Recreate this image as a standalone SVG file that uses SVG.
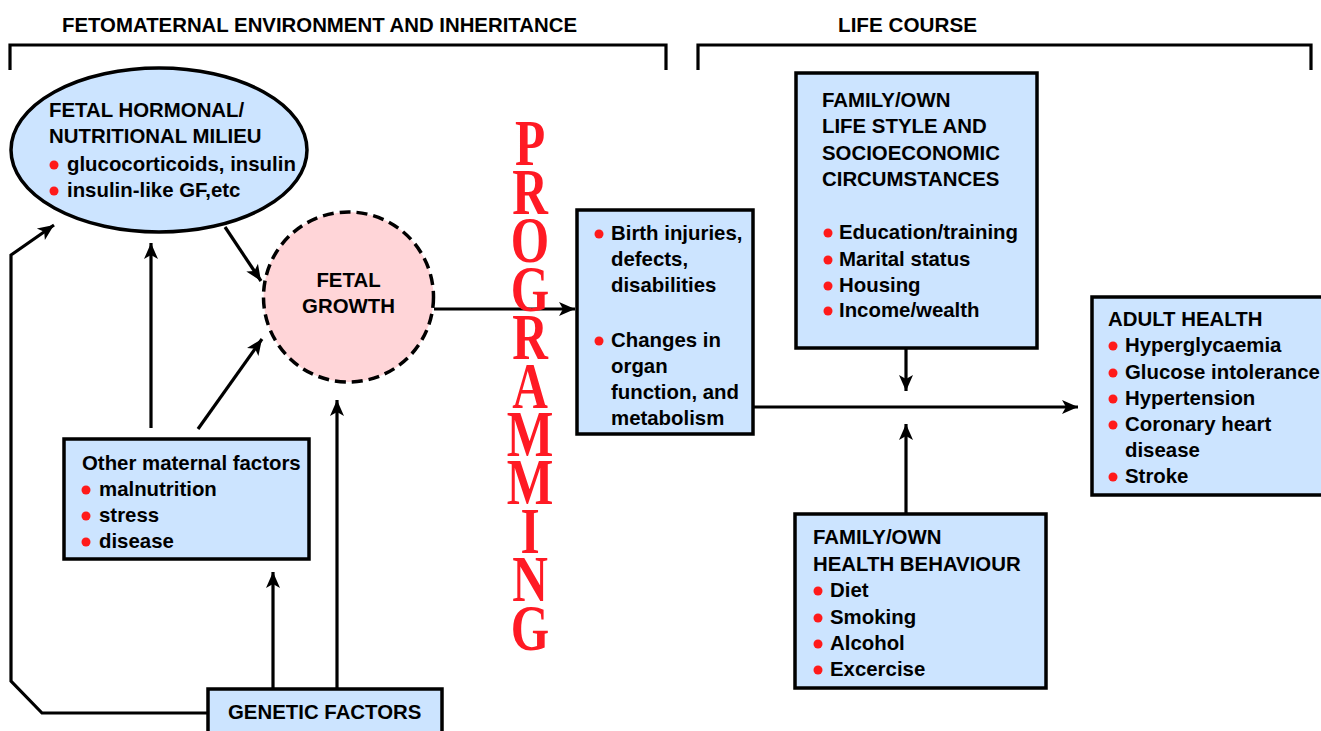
<svg xmlns="http://www.w3.org/2000/svg" width="1321" height="731" viewBox="0 0 1321 731">
<style>
text{font-family:"Liberation Sans",Arial,sans-serif;font-weight:bold;font-size:20.4px;fill:#000}
.box{fill:#CCE4FF;stroke:#000;stroke-width:3.5}
.bul{fill:#FF1A1A}
.ln{fill:none;stroke:#000;stroke-width:3.2}
.arr{fill:none;stroke:#000;stroke-width:3.2;marker-end:url(#ah)}
.prog{font-family:"Liberation Serif","Times New Roman",serif;font-weight:bold;font-size:65px;fill:#FF1A24;writing-mode:vertical-rl;text-orientation:upright;letter-spacing:-22.5px}
</style>
<defs>
<marker id="ah" markerUnits="userSpaceOnUse" markerWidth="18" markerHeight="16" refX="16" refY="7" orient="auto" overflow="visible">
<path d="M0,0 L16,7 L0,14 L4,7 z" fill="#000"/>
</marker>
</defs>
<rect width="1321" height="731" fill="#fff"/>

<g id="headers">
<text x="62" y="32" font-size="21" textLength="515" lengthAdjust="spacingAndGlyphs">FETOMATERNAL ENVIRONMENT AND INHERITANCE</text>
<path class="ln" d="M10,70 V45 H666 V70"/>
<text x="838" y="32" font-size="21" textLength="139" lengthAdjust="spacingAndGlyphs">LIFE COURSE</text>
<path class="ln" d="M698,70 V45 H1311 V70"/>
</g>

<g id="connectors">
<path class="arr" d="M225,227 L261,281"/>
<path class="arr" d="M198,429 L262,339"/>
<path class="arr" d="M151,428 V243"/>
<path class="arr" d="M337,689 V400"/>
<path class="arr" d="M273,689 V572"/>
<path class="arr" d="M208,713 H42 L11,681 V255 L54,225"/>
<path class="arr" d="M434,309 H575"/>
<path class="arr" d="M753,407 H1078"/>
<path class="arr" d="M906,349 V391"/>
<path class="arr" d="M906,514 V424"/>
</g>

<g id="fetal-milieu">
<ellipse cx="159" cy="150" rx="148" ry="82" fill="#CCE4FF" stroke="#000" stroke-width="3.5"/>
<text x="49" y="117">FETAL HORMONAL/</text>
<text x="49" y="143">NUTRITIONAL MILIEU</text>
<circle class="bul" cx="54" cy="165" r="4.5"/>
<text x="67" y="171">glucocorticoids, insulin</text>
<circle class="bul" cx="54" cy="191" r="4.5"/>
<text x="67" y="197">insulin-like GF,etc</text>
</g>

<g id="fetal-growth">
<circle cx="348.5" cy="297" r="85" fill="#FFD5D8" stroke="#000" stroke-width="3.5" stroke-dasharray="11,6"/>
<text x="348.5" y="287" text-anchor="middle">FETAL</text>
<text x="348.5" y="313" text-anchor="middle">GROWTH</text>
</g>

<g id="other-maternal">
<rect class="box" x="64" y="439" width="245" height="120"/>
<text x="82" y="470">Other maternal factors</text>
<circle class="bul" cx="86" cy="490" r="4.5"/>
<text x="99" y="496">malnutrition</text>
<circle class="bul" cx="86" cy="516" r="4.5"/>
<text x="99" y="522">stress</text>
<circle class="bul" cx="86" cy="542" r="4.5"/>
<text x="99" y="548">disease</text>
</g>

<g id="genetic">
<rect class="box" x="208" y="689" width="234" height="50"/>
<text x="228" y="719">GENETIC FACTORS</text>
</g>

<g id="programming">
<g transform="translate(530,0) scale(0.76,1)">
<text class="prog" x="0" y="108">PROGRAMMING</text>
</g>
</g>

<g id="birth-outcomes">
<rect class="box" x="577" y="210" width="176" height="224"/>
<circle class="bul" cx="599" cy="234" r="4.5"/>
<text x="611" y="240">Birth injuries,</text>
<text x="611" y="266">defects,</text>
<text x="611" y="292">disabilities</text>
<circle class="bul" cx="599" cy="341" r="4.5"/>
<text x="611" y="347">Changes in</text>
<text x="611" y="373">organ</text>
<text x="611" y="399">function, and</text>
<text x="611" y="425">metabolism</text>
</g>

<g id="lifestyle">
<rect class="box" x="796" y="73" width="241" height="275"/>
<text x="822" y="107">FAMILY/OWN</text>
<text x="822" y="133">LIFE STYLE AND</text>
<text x="822" y="160">SOCIOECONOMIC</text>
<text x="822" y="186">CIRCUMSTANCES</text>
<circle class="bul" cx="828" cy="233" r="4.5"/>
<text x="839" y="239">Education/training</text>
<circle class="bul" cx="828" cy="260" r="4.5"/>
<text x="839" y="266">Marital status</text>
<circle class="bul" cx="828" cy="286" r="4.5"/>
<text x="839" y="292">Housing</text>
<circle class="bul" cx="828" cy="311" r="4.5"/>
<text x="839" y="317">Income/wealth</text>
</g>

<g id="health-behaviour">
<rect class="box" x="795" y="514" width="251" height="174"/>
<text x="813" y="544">FAMILY/OWN</text>
<text x="813" y="571">HEALTH BEHAVIOUR</text>
<circle class="bul" cx="818" cy="591" r="4.5"/>
<text x="830" y="597">Diet</text>
<circle class="bul" cx="818" cy="618" r="4.5"/>
<text x="830" y="624">Smoking</text>
<circle class="bul" cx="818" cy="644" r="4.5"/>
<text x="830" y="650">Alcohol</text>
<circle class="bul" cx="818" cy="670" r="4.5"/>
<text x="830" y="676">Excercise</text>
</g>

<g id="adult-health">
<rect class="box" x="1092" y="297" width="240" height="198"/>
<text x="1108" y="326">ADULT HEALTH</text>
<circle class="bul" cx="1113" cy="346" r="4.5"/>
<text x="1125" y="352">Hyperglycaemia</text>
<circle class="bul" cx="1113" cy="373" r="4.5"/>
<text x="1125" y="379">Glucose intolerance</text>
<circle class="bul" cx="1113" cy="399" r="4.5"/>
<text x="1125" y="405">Hypertension</text>
<circle class="bul" cx="1113" cy="425" r="4.5"/>
<text x="1125" y="431">Coronary heart</text>
<text x="1125" y="457">disease</text>
<circle class="bul" cx="1113" cy="477" r="4.5"/>
<text x="1125" y="483">Stroke</text>
</g>
</svg>
